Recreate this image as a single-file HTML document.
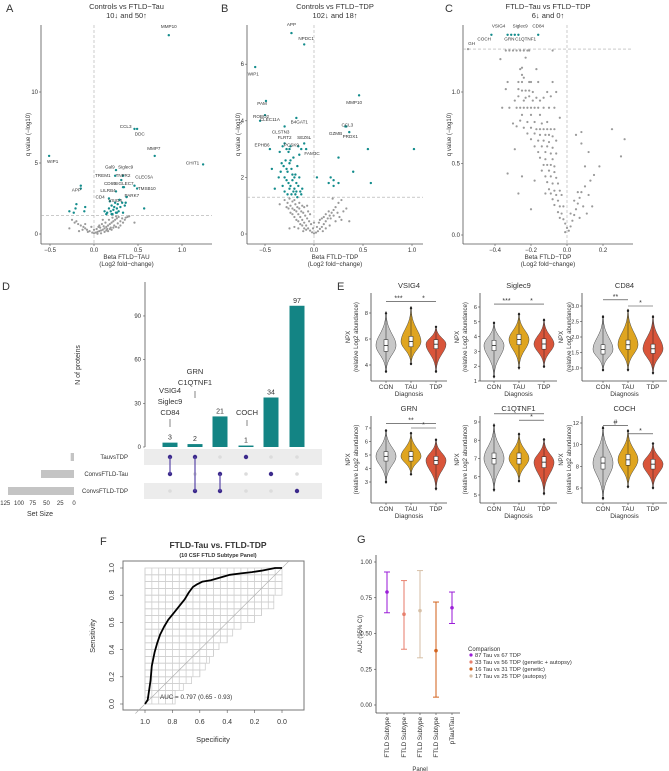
<!DOCTYPE html>
<html><head><meta charset="utf-8">
<style>
html,body{margin:0;padding:0;background:#fff;}
svg{display:block;font-family:"Liberation Sans",sans-serif;}
text{fill:#333;}
</style></head>
<body>
<svg id="fig" width="669" height="771" viewBox="0 0 669 771" xmlns="http://www.w3.org/2000/svg">
<text x="6" y="12" font-size="11">A</text>
<text x="221" y="12" font-size="11">B</text>
<text x="445" y="12" font-size="11">C</text>
<text x="2" y="290" font-size="11">D</text>
<text x="337" y="290" font-size="11">E</text>
<text x="100" y="545" font-size="11">F</text>
<text x="357" y="543" font-size="11">G</text>
</svg>
<script>
const NS="http://www.w3.org/2000/svg";
const svg=document.getElementById('fig');
function tag(el,name){
  
  
}
function mk(t,a,p){const e=document.createElementNS(NS,t);for(const k in a)e.setAttribute(k,a[k]);(p||svg).appendChild(e);return e;}
function txt(x,y,s,size,anchor,name,extra){const e=mk('text',Object.assign({x:x,y:y,'font-size':size,'text-anchor':anchor||'middle'},extra||{}));e.textContent=s;tag(e,name);return e;}

/* ===== Volcano data ===== */
const aTeal=[[0.85,14.0],[0.46,7.4],[0.49,7.4],[0.69,5.5],[1.24,4.9],[-0.51,5.5],[-0.15,3.4],[-0.15,3.2],[0.25,4.5],[0.33,4.1],[0.24,4.1],[0.31,3.8],[0.33,3.3],[0.34,3.3],[0.46,3.4],[0.49,3.2],[0.25,3.0],[0.37,2.6],[0.17,2.5],[0.29,2.4],[-0.28,1.6],[-0.2,2.1],[-0.23,1.5],[-0.21,1.8],[-0.1,1.9],[-0.11,1.6],[0.57,1.8],[0.15,1.5],[0.17,1.8],[0.19,1.6],[0.2,2.0],[0.21,1.4],[0.22,1.7],[0.23,1.9],[0.24,2.2],[0.25,1.5],[0.26,1.8],[0.27,2.1],[0.28,1.6],[0.3,1.9],[0.32,2.2],[0.33,1.5],[0.35,2.0],[0.18,2.3],[0.14,1.4],[0.12,1.6],[0.29,2.4],[0.36,2.2],[0.2,1.4],[0.26,1.5]];
const aGray=[[-0.25,1.0],[-0.2,0.9],[-0.18,0.7],[-0.15,0.6],[-0.12,0.5],[-0.1,0.4],[-0.08,0.3],[-0.05,0.2],[-0.02,0.1],[0,0.05],[0.02,0.1],[0.04,0.15],[0.06,0.2],[0.08,0.25],[0.1,0.3],[0.12,0.4],[0.14,0.5],[0.16,0.6],[0.18,0.7],[0.2,0.8],[0.22,0.9],[0.24,1.0],[0.26,1.1],[0.28,1.2],[-0.22,0.8],[-0.13,0.3],[-0.07,0.15],[0.03,0.35],[0.07,0.45],[0.11,0.55],[0.15,0.35],[0.19,0.45],[0.23,0.6],[0.27,0.75],[0.3,0.9],[0.32,1.1],[0.35,1.0],[0.38,1.2],[0.4,1.25],[0.46,0.8],[-0.28,0.4],[-0.1,0.7],[0.0,0.3],[0.05,0.5],[0.09,0.7],[0.13,0.8],[0.17,1.0],[0.21,1.15],[0.25,1.25],[0.2,0.3],[0.25,0.5],[0.3,0.6],[0.33,0.8],[0.12,0.15],[0.16,0.2],[-0.03,0.5],[-0.17,0.2],[0.36,1.15],[0.28,0.45],[0.1,1.0],[0.08,0.05],[0.04,0.02],[0.14,0.25],[0.18,0.35],[0.22,0.45],[0.06,0.6]];
const aLabels=[["MMP10",0.85,14.5],["CCL3",0.36,7.45],["DDC",0.52,6.95],["MMP7",0.68,5.9],["CHIT1",1.12,4.9],["WIP1",-0.47,5.0],["APP",-0.2,3.0],["Gal9",0.18,4.6],["Siglec9",0.36,4.6],["TREM1",0.1,4.0],["TNFR2",0.33,4.0],["CD69",0.18,3.45],["SIGLEC7",0.34,3.45],["CLEC5A",0.57,3.9],["TMSB10",0.6,3.1],["LILRB4",0.16,2.95],["PARK7",0.43,2.6],["CD4",0.07,2.5],["VSIG4",0.24,2.25]];

const bTeal=[[-0.23,7.1],[-0.1,6.7],[-0.6,5.9],[-0.49,4.7],[0.46,4.9],[-0.5,4.2],[-0.55,4.0],[-0.18,4.1],[0.32,3.8],[0.33,3.8],[0.36,3.6],[-0.3,3.8],[-0.3,3.2],[-0.1,3.2],[-0.25,3.0],[-0.45,3.0],[-0.08,3.0],[-0.13,3.0],[0.55,3.0],[1.02,3.0],[0.25,2.7],[0.4,2.2],[0.58,1.8],[0.15,1.8],[0.17,2.0],[0.2,1.9],[0.25,1.8],[0.03,2.0],[0.2,1.7],[-0.35,2.9],[-0.33,2.5],[-0.31,2.4],[-0.29,2.6],[-0.27,2.2],[-0.25,2.5],[-0.23,2.3],[-0.21,2.7],[-0.19,2.1],[-0.17,2.4],[-0.15,2.8],[-0.3,2.0],[-0.28,1.9],[-0.26,1.8],[-0.24,1.7],[-0.22,1.9],[-0.2,1.6],[-0.18,1.8],[-0.16,1.7],[-0.14,1.5],[-0.12,1.6],[-0.3,1.5],[-0.27,1.4],[-0.25,1.6],[-0.23,1.4],[-0.21,1.5],[-0.19,1.4],[-0.17,1.3],[-0.13,1.4],[-0.4,1.6],[-0.43,2.3],[-0.36,2.0],[-0.32,1.7],[-0.28,3.0],[-0.26,2.9],[-0.24,3.1],[-0.22,2.1],[-0.2,2.0],[-0.18,1.5],[-0.34,2.2],[-0.15,2.0],[-0.28,2.3],[-0.24,2.6],[-0.16,3.1],[-0.32,3.1]];
const bGray=[[-0.3,1.2],[-0.27,1.1],[-0.24,1.0],[-0.22,0.9],[-0.2,0.85],[-0.18,0.8],[-0.16,0.7],[-0.14,0.6],[-0.12,0.5],[-0.1,0.4],[-0.08,0.3],[-0.06,0.2],[-0.04,0.12],[-0.02,0.06],[0,0.02],[0.02,0.05],[0.04,0.1],[0.06,0.18],[0.08,0.25],[0.1,0.35],[0.12,0.45],[0.14,0.55],[0.16,0.65],[0.18,0.75],[0.2,0.85],[0.22,0.95],[0.25,1.1],[0.28,1.2],[0.3,0.8],[0.33,0.9],[0.28,0.5],[-0.25,1.25],[-0.22,1.15],[-0.19,1.05],[-0.17,0.95],[-0.15,0.9],[-0.13,0.8],[-0.11,0.75],[-0.09,0.65],[-0.07,0.55],[-0.05,0.45],[-0.03,0.35],[-0.2,0.6],[-0.18,0.5],[-0.16,0.45],[-0.14,0.35],[-0.12,0.3],[-0.1,0.2],[-0.08,0.15],[-0.24,0.75],[-0.26,0.9],[-0.28,0.95],[-0.22,0.7],[-0.2,1.2],[-0.15,1.1],[-0.12,1.0],[-0.1,0.95],[-0.06,0.8],[-0.04,0.7],[0.05,0.4],[0.08,0.55],[0.1,0.6],[0.12,0.7],[0.15,0.8],[0.17,0.55],[0.2,0.65],[0.22,0.45],[0.24,0.75],[0.26,0.6],[-0.25,0.2],[-0.2,0.25],[0.12,0.2],[0.16,0.3],[0.03,0.25],[0.06,0.5],[-0.01,0.2],[0.36,0.45],[0.19,1.25],[-0.35,1.05],[-0.16,0.2],[-0.07,1.0],[0.0,0.4],[-0.11,0.1],[0.09,0.1]];
const bLabels=[["APP",-0.23,7.35],["NPDC1",-0.08,6.85],["WIP1",-0.62,5.6],["PAM",-0.53,4.55],["MMP10",0.41,4.6],["ROBO2",-0.54,4.1],["CLEC11A",-0.45,4.0],["B4GAT1",-0.15,3.9],["CCL3",0.34,3.8],["GZMB",0.22,3.5],["PRDX1",0.37,3.4],["CLSTN3",-0.34,3.55],["FLRT2",-0.3,3.35],["SEZ6L",-0.1,3.35],["PCSK9",-0.23,3.1],["EPHB6",-0.53,3.1],["FAM3C",-0.02,2.8]];

const cTeal=[[-0.42,1.4],[-0.33,1.4],[-0.31,1.4],[-0.29,1.4],[-0.27,1.4],[-0.16,1.4]];
const cGray=[[-0.55,1.3],[-0.34,1.29],[-0.32,1.29],[-0.3,1.29],[-0.28,1.29],[-0.26,1.29],[-0.24,1.29],[-0.22,1.29],[-0.21,1.29],[-0.08,1.29],[-0.37,1.23],[-0.23,1.24],[-0.25,1.17],[-0.26,1.16],[-0.17,1.16],[-0.25,1.12],[-0.24,1.1],[-0.33,1.07],[-0.27,1.07],[-0.25,1.07],[-0.21,1.07],[-0.2,1.07],[-0.16,1.07],[-0.08,1.07],[-0.34,1.02],[-0.27,1.02],[-0.25,1.01],[-0.23,1.01],[-0.21,1.01],[-0.19,1.0],[-0.11,1.0],[-0.06,1.0],[-0.27,0.97],[-0.23,0.96],[-0.21,0.97],[-0.17,0.96],[-0.13,0.96],[-0.09,0.97],[-0.29,0.94],[-0.24,0.94],[-0.19,0.94],[-0.15,0.94],[-0.36,0.89],[-0.32,0.89],[-0.28,0.89],[-0.26,0.89],[-0.24,0.89],[-0.22,0.89],[-0.2,0.89],[-0.18,0.89],[-0.16,0.89],[-0.13,0.89],[-0.1,0.89],[-0.07,0.89],[-0.25,0.84],[-0.2,0.84],[-0.15,0.84],[-0.04,0.82],[-0.26,0.8],[-0.22,0.79],[-0.18,0.79],[-0.14,0.78],[-0.11,0.79],[-0.28,0.76],[-0.24,0.75],[-0.2,0.75],[-0.17,0.74],[-0.15,0.74],[-0.13,0.74],[-0.11,0.74],[-0.09,0.74],[-0.07,0.74],[-0.22,0.71],[-0.18,0.71],[-0.15,0.7],[-0.12,0.7],[-0.1,0.7],[-0.08,0.69],[-0.2,0.67],[-0.16,0.66],[-0.13,0.66],[-0.1,0.65],[-0.06,0.66],[-0.18,0.62],[-0.14,0.62],[-0.11,0.62],[-0.08,0.61],[-0.16,0.58],[-0.12,0.58],[-0.09,0.57],[-0.06,0.57],[-0.15,0.54],[-0.12,0.53],[-0.08,0.53],[-0.13,0.49],[-0.11,0.49],[-0.09,0.49],[-0.07,0.48],[-0.14,0.45],[-0.1,0.45],[-0.07,0.44],[-0.12,0.41],[-0.09,0.41],[-0.06,0.4],[-0.11,0.37],[-0.08,0.36],[-0.05,0.36],[-0.1,0.32],[-0.07,0.31],[-0.04,0.31],[-0.12,0.29],[-0.09,0.29],[-0.06,0.28],[-0.03,0.28],[-0.08,0.25],[-0.05,0.24],[-0.07,0.21],[-0.04,0.2],[-0.02,0.2],[-0.05,0.16],[-0.03,0.15],[-0.04,0.12],[-0.02,0.11],[-0.01,0.08],[0.0,0.05],[0.01,0.03],[-0.01,0.02],[0.02,0.06],[0.03,0.1],[0.04,0.14],[0.05,0.18],[0.06,0.22],[0.07,0.26],[0.08,0.3],[0.1,0.34],[0.02,0.15],[0.04,0.24],[0.06,0.3],[0.09,0.2],[0.12,0.28],[0.13,0.38],[0.18,0.48],[0.3,0.55],[0.32,0.67],[0.25,0.74],[0.08,0.72],[0.05,0.7],[0.08,0.64],[0.12,0.58],[0.1,0.48],[0.15,0.42],[-0.33,0.43],[-0.27,0.29],[-0.18,0.38],[-0.2,0.18],[-0.25,0.41],[-0.29,0.6],[-0.3,0.78],[0.14,0.2],[0.11,0.15],[0.07,0.12]];
const cLabels=[["VSIG4",-0.38,1.45],["Siglec9",-0.26,1.45],["CD84",-0.16,1.45],["COCH",-0.46,1.36],["GRN",-0.32,1.36],["C1QTNF1",-0.23,1.36],["GH",-0.53,1.33]];

function volcano(o){
  const g=mk('g',{});tag(g,o.name);
  const sx=v=>o.x0+o.kx*v, sy=v=>o.y0-o.ky*v;
  let l=mk('line',{x1:o.left,y1:o.top,x2:o.left,y2:o.bottom,stroke:'#555','stroke-width':0.8},g);tag(l,'y-axis-line');
  l=mk('line',{x1:o.left,y1:o.bottom,x2:o.right,y2:o.bottom,stroke:'#555','stroke-width':0.8},g);tag(l,'x-axis-line');
  l=mk('line',{x1:sx(0),y1:o.top,x2:sx(0),y2:o.bottom,stroke:'#aaa','stroke-width':0.6,'stroke-dasharray':'3,2'},g);tag(l,'zero-effect-line');
  l=mk('line',{x1:o.left,y1:sy(1.3),x2:o.right,y2:sy(1.3),stroke:'#aaa','stroke-width':0.6,'stroke-dasharray':'3,2'},g);tag(l,'significance-threshold-line');
  o.xt.forEach(v=>{let t=mk('line',{x1:sx(v),y1:o.bottom,x2:sx(v),y2:o.bottom+2,stroke:'#555','stroke-width':0.6},g);tag(t,'x-tick');
    txt(sx(v),o.bottom+8,v.toFixed(1).replace('-','−'),6,'middle','x-tick-label').setAttribute('fill','#555');});
  o.yt.forEach(v=>{let t=mk('line',{x1:o.left-2,y1:sy(v),x2:o.left,y2:sy(v),stroke:'#555','stroke-width':0.6},g);tag(t,'y-tick');
    txt(o.left-3,sy(v)+2,o.yfmt?v.toFixed(1):String(v),6,'end','y-tick-label');});
  o.gray.forEach(p=>{const c=mk('circle',{cx:sx(p[0]),cy:sy(p[1]),r:1.1,fill:'#9a9a9a'},g);tag(c,'nonsignificant-point');});
  o.teal.forEach(p=>{const c=mk('circle',{cx:sx(p[0]),cy:sy(p[1]),r:1.2,fill:'#138c8c'},g);tag(c,'significant-point');});
  o.labels.forEach(p=>{txt(sx(p[1]),sy(p[2]),p[0],4.6,'middle','protein-label');});
  const cx=(o.left+o.right)/2;
  txt(cx,o.bottom+15,o.xlab,6.3,'middle','x-axis-title');
  txt(cx,o.bottom+22,'(Log2 fold−change)',6.3,'middle','x-axis-subtitle');
  txt(o.ylx,(o.top+o.bottom)/2,'q value (−log10)',6,'middle','y-axis-title',{transform:`rotate(-90 ${o.ylx} ${(o.top+o.bottom)/2})`});
  txt(cx,9,o.t1,7.5,'middle','chart-title');
  txt(cx,18,o.t2,7.5,'middle','chart-subtitle');
}
volcano({name:'volcano-a',x0:94,kx:88,y0:234,ky:14.2,left:41,right:212,top:25,bottom:244,xt:[-0.5,0,0.5,1.0],yt:[0,5,10],gray:aGray,teal:aTeal,labels:aLabels,xlab:'Beta FTLD−TAU',ylx:30,t1:'Controls vs FTLD−Tau',t2:'10↓ and 50↑'});
volcano({name:'volcano-b',x0:314,kx:98,y0:234,ky:28.3,left:247,right:423,top:25,bottom:244,xt:[-0.5,0,0.5,1.0],yt:[0,2,4,6],gray:bGray,teal:bTeal,labels:bLabels,xlab:'Beta FTLD−TDP',ylx:240,t1:'Controls vs FTLD−TDP',t2:'102↓ and 18↑'});
volcano({name:'volcano-c',x0:567,kx:180,y0:235,ky:143,left:463,right:633,top:25,bottom:244,xt:[-0.4,-0.2,0,0.2],yt:[0,0.5,1.0],yfmt:1,gray:cGray,teal:cTeal,labels:cLabels,xlab:'Beta FTLD−TDP',ylx:451,t1:'FTLD−Tau vs FTLD−TDP',t2:'6↓ and 0↑'});

/* ===== UpSet (D) ===== */
const upCounts=[3,2,21,1,34,97];
const upSets=["TauvsTDP","ConvsFTLD-Tau","ConvsFTLD-TDP"];
const upSetSizes=[6,60,120];
const upMembership=[[0,1],[0,2],[1,2],[0],[1],[2]];
const upSizeTicks=[125,100,75,50,25,0];
const upBarTicks=[0,30,60,90];
(function(){
  const g=mk('g',{});tag(g,'upset-plot');
  const base=447, ky=1.456, cols=[170,195,220,246,271,297], rows=[457,474,491];
  const sy=v=>base-ky*v;
  let l=mk('line',{x1:145,y1:282,x2:145,y2:base,stroke:'#555','stroke-width':0.8},g);tag(l,'y-axis-line');
  upBarTicks.forEach(v=>{let t=mk('line',{x1:143,y1:sy(v),x2:145,y2:sy(v),stroke:'#555','stroke-width':0.6},g);tag(t,'y-tick');txt(141,sy(v)+2,String(v),6,'end','y-tick-label');});
  txt(80,365,'N of proteins',7,'middle','y-axis-title',{transform:'rotate(-90 80 365)'});
  [0,2].forEach(i=>{let r=mk('rect',{x:144,y:rows[i]-8,width:178,height:16,fill:'#ececec'},g);tag(r,'matrix-row-stripe');});
  upCounts.forEach((v,i)=>{
    const b=mk('rect',{x:cols[i]-7.5,y:sy(v),width:15,height:ky*v,fill:'#138484'},g);tag(b,'intersection-bar');
    txt(cols[i],sy(v)-3,String(v),7,'middle','bar-value-label').setAttribute('fill','#1a9a9a');
    rows.forEach((ry,j)=>{const on=upMembership[i].includes(j);const c=mk('circle',{cx:cols[i],cy:ry,r:on?2.2:1.8,fill:on?'#3c2a8c':'#dcdcdc'},g);tag(c,on?'matrix-dot-active':'matrix-dot-inactive');});
    const m=upMembership[i];if(m.length>1){const s=mk('line',{x1:cols[i],y1:rows[Math.min(...m)],x2:cols[i],y2:rows[Math.max(...m)],stroke:'#5a48a8','stroke-width':1.2},g);tag(s,'matrix-connector');}
  });
  upSets.forEach((s,j)=>{txt(128,rows[j]+2,s,6,'end','set-label');
    const w=upSetSizes[j]*0.55;const r=mk('rect',{x:74-w,y:rows[j]-4,width:w,height:8,fill:'#c4c4c4'},g);tag(r,'set-size-bar');});
  upSizeTicks.forEach(v=>{txt(74-v*0.55,505,String(v),6,'middle','set-size-tick-label');});
  txt(40,516,'Set Size',7,'middle','set-size-title');
  ['VSIG4','Siglec9','CD84'].forEach((s,i)=>txt(170,393+i*11,s,7.5,'middle','bar-annotation'));
  ['GRN','C1QTNF1'].forEach((s,i)=>txt(195,374+i*11,s,7.5,'middle','bar-annotation'));
  txt(247,415,'COCH',7.5,'middle','bar-annotation');
  [[170,419,427],[195,391,398],[247,420,426]].forEach(a=>{const k=mk('line',{x1:a[0],y1:a[1],x2:a[0],y2:a[2],stroke:'#333','stroke-width':0.6},g);tag(k,'annotation-tick');});
})();

/* ===== Violins (E) ===== */
const vNames=["VSIG4","Siglec9","CD84","GRN","C1QTNF1","COCH"];
const vGroups=["CON","TAU","TDP"];
const vMed=[[5.5,5.8,5.6],[3.4,3.8,3.5],[1.6,1.75,1.62],[4.9,4.9,4.6],[7.0,7.0,6.8],[8.3,8.6,8.2]];
const vMin=[[3.4,4.0,3.4],[1.2,1.8,1.9],[0.9,0.9,0.8],[2.9,3.5,2.4],[5.2,5.7,5.0],[4.9,6.0,5.9]];
const vMax=[[8.1,8.5,7.0],[5.0,5.6,5.2],[2.7,2.9,2.7],[6.9,6.7,6.2],[8.9,8.4,8.1],[11.7,11.4,10.2]];
const vIqr=[[0.45,0.4,0.35],[0.35,0.35,0.35],[0.15,0.15,0.15],[0.35,0.35,0.3],[0.3,0.3,0.3],[0.55,0.5,0.45]];
const vTicks=[[4,6,8],[1,2,3,4,5,6],[1.0,1.5,2.0,2.5,3.0],[3,4,5,6,7],[5,6,7,8,9],[6,8,10,12]];
const vSig=[[[0,1,'***',8.9],[1,2,'*',8.9]],[[0,1,'***',6.2],[1,2,'*',6.2]],[[0,1,'**',3.2],[1,2,'*',3.0]],[[0,2,'**',7.35],[1,2,'*',7.0]],[[0,2,'*',9.45],[1,2,'*',9.1]],[[0,1,'#',11.75],[1,2,'*',11.0]]];
(function(){
  const colX=[[371,386,411,436,447],[480,494,519,544,557],[582,603,628,653,667]];
  const rowY=[{top:293,bottom:381,title:288,lab:389,diag:396},{top:416,bottom:503,title:411,lab:511,diag:518}];
  const cal=[[4,365,8,313],[1,381,6,307],[1.0,368,3.0,306],[3,482,7,428],[5,495,9,422],[6,488,12,423]];
  const fills=['#c8c8c8','#dfa520','#d9553a'];
  const ylx=[[350,358],[459,467],[563,571]];
  vNames.forEach((nm,p)=>{
    const g=mk('g',{});tag(g,'violin-panel-'+nm.toLowerCase());
    const c=colX[p%3], r=rowY[Math.floor(p/3)], k=cal[p];
    const sy=v=>k[1]+(v-k[0])*(k[3]-k[1])/(k[2]-k[0]);
    let l=mk('line',{x1:c[0],y1:r.top,x2:c[0],y2:r.bottom,stroke:'#444','stroke-width':0.8},g);tag(l,'y-axis-line');
    l=mk('line',{x1:c[0],y1:r.bottom,x2:c[4],y2:r.bottom,stroke:'#444','stroke-width':0.8},g);tag(l,'x-axis-line');
    vTicks[p].forEach(v=>{const t=mk('line',{x1:c[0]-2,y1:sy(v),x2:c[0],y2:sy(v),stroke:'#444','stroke-width':0.6},g);tag(t,'y-tick');
      txt(c[0]-3,sy(v)+2,Number.isInteger(vTicks[p][1])?String(v):v.toFixed(1),5.6,'end','y-tick-label');});
    txt((c[0]+c[4])/2,r.title,nm,7.5,'middle','panel-title');
    txt((c[0]+c[4])/2,r.diag,'Diagnosis',6.5,'middle','x-axis-title');
    const ym=(r.top+r.bottom)/2;
    txt(ylx[p%3][0],ym,'NPX',6,'middle','y-axis-title',{transform:`rotate(-90 ${ylx[p%3][0]} ${ym})`});
    txt(ylx[p%3][1],ym,'(relative Log2 abundance)',6,'middle','y-axis-subtitle',{transform:`rotate(-90 ${ylx[p%3][1]} ${ym})`});
    vGroups.forEach((gn,i)=>{
      const x=c[i+1];
      txt(x,r.lab,gn,6.5,'middle','x-tick-label');
      const t=mk('line',{x1:x,y1:r.bottom,x2:x,y2:r.bottom+2,stroke:'#444','stroke-width':0.6},g);tag(t,'x-tick');
      const med=vMed[p][i],mn=vMin[p][i],mx=vMax[p][i],W=10;
      const su=(mx-med)/2.0, sd=(med-mn)/2.0;
      let left=[],right=[];
      for(let s=0;s<=40;s++){const v=mn+(mx-mn)*s/40;const sg=v>=med?su:sd;const w=Math.max(0.4,W*Math.exp(-Math.pow((v-med)/sg,2)*1.1));
        right.push([x+w,sy(v)]);left.unshift([x-w,sy(v)]);}
      const d='M'+right.map(q=>q[0].toFixed(1)+','+q[1].toFixed(1)).join('L')+'L'+left.map(q=>q[0].toFixed(1)+','+q[1].toFixed(1)).join('L')+'Z';
      const vp=mk('path',{d:d,fill:fills[i],stroke:'#444','stroke-width':0.5},g);tag(vp,'violin-'+gn.toLowerCase());
      const wl=mk('line',{x1:x,y1:sy(mn+0.1*(med-mn)),x2:x,y2:sy(mx-0.1*(mx-med)),stroke:'#222','stroke-width':0.5},g);tag(wl,'box-whisker');
      const q=vIqr[p][i];const bx=mk('rect',{x:x-2,y:sy(med+q),width:4,height:sy(med-q)-sy(med+q),fill:'#fff',stroke:'#222','stroke-width':0.5},g);tag(bx,'box-iqr');
      const ml=mk('line',{x1:x-2,y1:sy(med),x2:x+2,y2:sy(med),stroke:'#222','stroke-width':0.8},g);tag(ml,'box-median');
      [mn+0.05*(med-mn),mx-0.05*(mx-med)].forEach(ov=>{const o=mk('circle',{cx:x,cy:sy(ov),r:1.2,fill:'#222'},g);tag(o,'outlier-point');});
    });
    vSig[p].forEach(s=>{const y=sy(s[3]);const b=mk('line',{x1:c[s[0]+1],y1:y,x2:c[s[1]+1],y2:y,stroke:'#333','stroke-width':0.6},g);tag(b,'significance-bar');
      txt((c[s[0]+1]+c[s[1]+1])/2,y-1,s[2],7,'middle','significance-label');});
  });
})();

/* ===== ROC (F) ===== */
const rocSpec=[1.0,0.98,0.97,0.96,0.95,0.93,0.91,0.89,0.86,0.83,0.79,0.75,0.71,0.68,0.65,0.62,0.58,0.52,0.45,0.38,0.3,0.22,0.15,0.1,0.05,0.0];
const rocSens=[0.0,0.03,0.1,0.17,0.28,0.38,0.45,0.51,0.57,0.62,0.67,0.72,0.77,0.82,0.86,0.88,0.9,0.91,0.93,0.95,0.96,0.97,0.98,0.99,1.0,1.0];
const rocTicks=[1.0,0.8,0.6,0.4,0.2,0.0];
const gridSens=[0,0.05,0.1,0.15,0.2,0.25,0.3,0.35,0.4,0.45,0.5,0.55,0.6,0.65,0.7,0.75,0.8,0.85,0.9,0.95,1.0];
const gridEdge=[0.78,0.78,0.72,0.66,0.6,0.56,0.53,0.5,0.46,0.4,0.36,0.3,0.2,0.15,0.06,0.06,0.0,0.0,0.0,0.0,0.1];
(function(){
  const g=mk('g',{});tag(g,'roc-chart');
  const fx=s=>145+(1-s)*137, fy=s=>704-136*s;
  const box=mk('rect',{x:123,y:561,width:181,height:149,fill:'none',stroke:'#777','stroke-width':1},g);tag(box,'plot-frame');
  gridSens.forEach((s,i)=>{if(i<gridSens.length-1){const r=mk('rect',{x:fx(1),y:fy(gridSens[i+1]),width:fx(gridEdge[i])-fx(1),height:fy(gridSens[i])-fy(gridSens[i+1]),fill:'none',stroke:'#cfcfcf','stroke-width':0.8},g);tag(r,'ci-grid-row');}});
  [1,0.95,0.9,0.85,0.8,0.75,0.7,0.65,0.6,0.55,0.5,0.45,0.4,0.35,0.3,0.25,0.2,0.15,0.1,0.05].forEach(sp=>{
    let lo=0;while(lo<gridEdge.length&&gridEdge[lo]>sp)lo++;
    if(lo<gridSens.length-1){const v=mk('line',{x1:fx(sp),y1:fy(gridSens[lo]),x2:fx(sp),y2:fy(1),stroke:'#cfcfcf','stroke-width':0.8},g);tag(v,'ci-grid-col');}
  });
  const dg=mk('line',{x1:fx(1.07),y1:fy(-0.07),x2:fx(-0.05),y2:fy(1.05),stroke:'#aaa','stroke-width':0.6},g);tag(dg,'reference-diagonal');
  const pts=rocSpec.map((s,i)=>fx(s).toFixed(1)+','+fy(rocSens[i]).toFixed(1)).join(' ');
  const cv=mk('polyline',{points:pts,fill:'none',stroke:'#000','stroke-width':1.8,'stroke-linejoin':'round'},g);tag(cv,'roc-curve');
  rocTicks.forEach(v=>{
    let t=mk('line',{x1:fx(v),y1:710,x2:fx(v),y2:713,stroke:'#555','stroke-width':0.6},g);tag(t,'x-tick');
    txt(fx(v),724,v.toFixed(1),7,'middle','x-tick-label');
    t=mk('line',{x1:120,y1:fy(v),x2:123,y2:fy(v),stroke:'#555','stroke-width':0.6},g);tag(t,'y-tick');
    txt(112,fy(v),v.toFixed(1),7,'middle','y-tick-label',{transform:`rotate(-90 112 ${fy(v)})`}).setAttribute('dy','2');
  });
  txt(213,742,'Specificity',7.5,'middle','x-axis-title');
  txt(95,636,'Sensitivity',7.5,'middle','y-axis-title',{transform:'rotate(-90 95 636)'});
  txt(218,548,'FTLD-Tau vs. FTLD-TDP',8.5,'middle','chart-title',{'font-weight':'bold'}).setAttribute('fill','#7a3fb0');
  txt(218,557,'(10 CSF FTLD Subtype Panel)',5.5,'middle','chart-subtitle',{'font-weight':'bold'}).setAttribute('fill','#7a3fb0');
  txt(160,699,'AUC = 0.797 (0.65 - 0.93)',6.3,'start','auc-annotation');
})();

/* ===== AUC comparison (G) ===== */
const gPanels=["FTLD Subtype","FTLD Subtype","FTLD Subtype","FTLD Subtype","pTau/tTau"];
const gAuc=[0.79,0.635,0.66,0.38,0.68];
const gLow=[0.645,0.39,0.33,0.055,0.57];
const gHigh=[0.93,0.87,0.94,0.72,0.79];
const gColorIdx=[0,1,3,2,0];
const gLegend=["87 Tau vs 67 TDP","33 Tau vs 56 TDP (genetic + autopsy)","16 Tau vs 31 TDP (genetic)","17 Tau vs 25 TDP (autopsy)"];
const gTicks=[0,0.25,0.5,0.75,1.0];
(function(){
  const g=mk('g',{});tag(g,'auc-chart');
  const cols=['#9b1fd8','#e8806e','#d3641f','#d7c0a8'];
  const xs=[387,404,420,436,452];const gy=v=>705-143*v;
  let l=mk('line',{x1:376,y1:555,x2:376,y2:713,stroke:'#444','stroke-width':0.8},g);tag(l,'y-axis-line');
  l=mk('line',{x1:376,y1:713,x2:460,y2:713,stroke:'#444','stroke-width':0.8},g);tag(l,'x-axis-line');
  gTicks.forEach(v=>{const t=mk('line',{x1:374,y1:gy(v),x2:376,y2:gy(v),stroke:'#444','stroke-width':0.6},g);tag(t,'y-tick');txt(372,gy(v)+2,v.toFixed(2),6,'end','y-tick-label');});
  txt(362,634,'AUC (95% CI)',6,'middle','y-axis-title',{transform:'rotate(-90 362 634)'});
  gPanels.forEach((p,i)=>{
    const c=cols[gColorIdx[i]];
    const t=mk('line',{x1:xs[i],y1:713,x2:xs[i],y2:715,stroke:'#444','stroke-width':0.6},g);tag(t,'x-tick');
    txt(xs[i]+2,717,p,6.3,'end','x-tick-label',{transform:`rotate(-90 ${xs[i]+2} 717)`});
    const e=mk('line',{x1:xs[i],y1:gy(gLow[i]),x2:xs[i],y2:gy(gHigh[i]),stroke:c,'stroke-width':1.3,'stroke-opacity':0.8},g);tag(e,'ci-errorbar');
    [gLow[i],gHigh[i]].forEach(v=>{const cap=mk('line',{x1:xs[i]-3,y1:gy(v),x2:xs[i]+3,y2:gy(v),stroke:c,'stroke-width':1},g);tag(cap,'errorbar-cap');});
    const pt=mk('circle',{cx:xs[i],cy:gy(gAuc[i]),r:1.8,fill:c},g);tag(pt,'auc-point');
  });
  txt(420,771,'Panel',6,'middle','x-axis-title');
  txt(468,651,'Comparison',6,'start','legend-title');
  gLegend.forEach((s,i)=>{const y=657+i*7;const d=mk('circle',{cx:471,cy:y-2,r:1.6,fill:cols[i]},g);tag(d,'legend-marker');txt(475,y,s,5.8,'start','legend-entry');});
})();
</script>
</body></html>
